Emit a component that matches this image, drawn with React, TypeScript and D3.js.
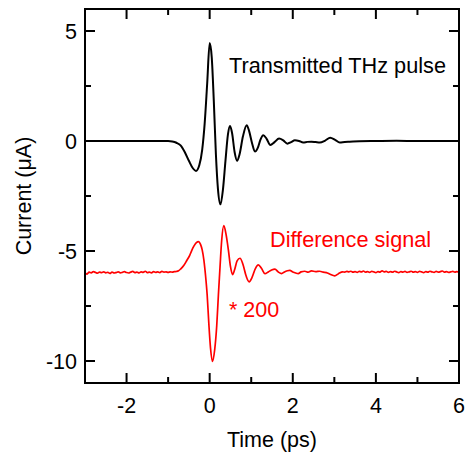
import * as d3 from 'd3';
import React from 'react';

// time (ps), current (uA)
const thzPulse: [number, number][] = [
  [-3, 0], [-2, 0], [-1.2, 0], [-1.0, 0], [-0.9, -0.02], [-0.8, -0.08],
  [-0.7, -0.2], [-0.6, -0.5], [-0.5, -0.9], [-0.4, -1.25], [-0.33, -1.36],
  [-0.25, -1.1], [-0.18, -0.4], [-0.12, 0.8], [-0.06, 2.6], [0.0, 4.45],
  [0.05, 3.8], [0.1, 1.8], [0.15, -0.6], [0.2, -2.2], [0.26, -2.88],
  [0.32, -2.2], [0.38, -0.9], [0.44, 0.3], [0.49, 0.68], [0.54, 0.35],
  [0.6, -0.5], [0.66, -0.9], [0.72, -0.6], [0.8, 0.2], [0.89, 0.72],
  [0.95, 0.45], [1.02, -0.1], [1.09, -0.48], [1.16, -0.3], [1.22, 0.05],
  [1.29, 0.26], [1.37, 0.1], [1.46, -0.18], [1.56, -0.05], [1.67, 0.11],
  [1.77, 0.03], [1.87, -0.12], [1.96, -0.05], [2.05, 0.03], [2.15, 0],
  [2.25, -0.07], [2.35, -0.04], [2.45, -0.03], [2.55, -0.05], [2.65, -0.07],
  [2.78, 0.02], [2.9, 0.15], [3.02, 0.05], [3.13, -0.07], [3.25, -0.04],
  [3.37, -0.03], [3.6, -0.01], [4.0, 0.0], [4.5, 0.01], [5.0, 0.0], [6.0, 0.0],
];

// difference signal (x200, offset)
const diffSignal: [number, number][] = [
  [-3.0, -5.98], [-2.95, -6.05], [-2.9, -5.96], [-2.85, -5.99], [-2.8, -5.94],
  [-2.75, -5.97], [-2.7, -6.01], [-2.65, -5.96], [-2.6, -5.98], [-2.55, -5.95],
  [-2.5, -5.99], [-2.45, -5.97], [-2.4, -6.02], [-2.35, -5.96], [-2.3, -6.0],
  [-2.25, -5.98], [-2.2, -5.95], [-2.15, -5.99], [-2.1, -5.97], [-2.05, -5.94],
  [-2.0, -5.98], [-1.95, -6.0], [-1.9, -5.96], [-1.85, -5.93], [-1.8, -5.98],
  [-1.75, -5.96], [-1.7, -6.0], [-1.65, -5.95], [-1.6, -5.97], [-1.55, -5.92],
  [-1.5, -5.98], [-1.45, -5.96], [-1.4, -5.99], [-1.35, -5.94], [-1.3, -5.97],
  [-1.25, -5.95], [-1.2, -5.98], [-1.15, -5.93], [-1.1, -5.96], [-1.05, -5.95],
  [-1.0, -5.97], [-0.95, -5.95], [-0.9, -5.96], [-0.85, -5.94],
  [-0.8, -5.93], [-0.75, -5.9], [-0.7, -5.82], [-0.62, -5.65], [-0.55, -5.43],
  [-0.48, -5.2], [-0.43, -4.97], [-0.38, -4.78], [-0.32, -4.62], [-0.27, -4.57],
  [-0.22, -4.7], [-0.18, -4.95], [-0.14, -5.4], [-0.1, -6.1], [-0.06, -7.0],
  [-0.02, -8.3], [0.02, -9.4], [0.07, -10.02], [0.12, -9.5], [0.17, -8.4],
  [0.21, -7.0], [0.25, -5.7], [0.29, -4.5], [0.34, -3.84], [0.39, -4.2],
  [0.45, -4.95], [0.5, -5.7], [0.55, -6.07], [0.6, -5.85], [0.66, -5.45],
  [0.73, -5.33], [0.8, -5.6], [0.88, -6.15], [0.95, -6.4], [1.02, -6.2],
  [1.1, -5.8], [1.17, -5.63], [1.25, -5.8], [1.33, -6.03], [1.41, -5.95],
  [1.49, -5.86], [1.57, -5.82], [1.65, -5.95], [1.73, -6.03], [1.8, -5.95],
  [1.87, -5.9], [1.93, -5.88], [2.0, -5.95], [2.07, -6.0], [2.13, -6.03],
  [2.2, -5.95], [2.29, -5.92], [2.37, -5.96], [2.45, -5.9], [2.55, -5.94],
  [2.65, -5.92], [2.73, -5.96], [2.81, -5.98], [2.9, -6.06], [3.01, -6.13],
  [3.1, -6.03], [3.2, -5.95],
  [3.25, -5.96], [3.3, -5.93], [3.35, -5.95], [3.4, -5.92], [3.45, -5.96],
  [3.5, -5.94], [3.55, -5.97], [3.6, -5.93], [3.65, -5.95], [3.7, -5.91],
  [3.75, -5.96], [3.8, -5.94], [3.85, -5.97], [3.9, -5.93], [3.95, -5.95],
  [4.0, -5.98], [4.05, -5.94], [4.1, -5.96], [4.15, -5.9], [4.2, -5.95],
  [4.25, -5.93], [4.3, -5.97], [4.35, -5.94], [4.4, -5.96], [4.45, -5.92],
  [4.5, -5.95], [4.55, -5.98], [4.6, -5.94], [4.65, -5.96], [4.7, -5.93],
  [4.75, -5.97], [4.8, -5.95], [4.85, -5.92], [4.9, -5.96], [4.95, -5.94],
  [5.0, -5.97], [5.05, -5.93], [5.1, -5.95], [5.15, -5.98], [5.2, -5.94],
  [5.25, -5.96], [5.3, -5.92], [5.35, -5.95], [5.4, -5.97], [5.45, -5.93],
  [5.5, -5.96], [5.55, -5.94], [5.6, -5.91], [5.65, -5.96], [5.7, -5.94],
  [5.75, -5.97], [5.8, -5.95], [5.85, -5.93], [5.9, -5.96], [5.95, -5.94],
  [6.0, -5.96],
];

const xMajor = [-2, 0, 2, 4, 6];
const xMinor = [-3, -1, 1, 3, 5];
const yMajor = [-10, -5, 0, 5];
const yMinor = [-7.5, -2.5, 2.5];

const font = "'Liberation Sans', Arial, sans-serif";

export default function App() {
  const width = 465;
  const height = 456;
  const margin = { top: 9, right: 6, bottom: 73, left: 85 };
  const x = d3.scaleLinear().domain([-3, 6]).range([margin.left, width - margin.right]);
  const y = d3.scaleLinear().domain([-11, 6]).range([height - margin.bottom, margin.top]);

  const line = d3
    .line<[number, number]>()
    .x((d) => x(d[0]))
    .y((d) => y(d[1]))
    .curve(d3.curveMonotoneX);

  const left = margin.left;
  const right = width - margin.right;
  const top = margin.top;
  const bottom = height - margin.bottom;
  const major = 10;
  const minor = 6;

  return (
    <div style={{ position: 'absolute', left: 0, top: 0 }}>
      <svg width={width} height={height} style={{ display: 'block', background: '#fff' }}>
        <defs>
          <clipPath id="plot">
            <rect x={left} y={top} width={right - left} height={bottom - top} />
          </clipPath>
        </defs>

        <g clipPath="url(#plot)">
          <path d={line(thzPulse) ?? ''} fill="none" stroke="#000" strokeWidth={2} />
          <path d={line(diffSignal) ?? ''} fill="none" stroke="#ff0000" strokeWidth={1.7} />
        </g>

        {/* ticks, inward on all sides */}
        <g stroke="#000" strokeWidth={2}>
          {xMajor.concat(xMinor).map((t) => {
            const len = xMajor.includes(t) ? major : minor;
            return (
              <g key={'x' + t}>
                <line x1={x(t)} x2={x(t)} y1={bottom} y2={bottom - len} />
                <line x1={x(t)} x2={x(t)} y1={top} y2={top + len} />
              </g>
            );
          })}
          {yMajor.concat(yMinor).map((t) => {
            const len = yMajor.includes(t) ? major : minor;
            return (
              <g key={'y' + t}>
                <line x1={left} x2={left + len} y1={y(t)} y2={y(t)} />
                <line x1={right} x2={right - len} y1={y(t)} y2={y(t)} />
              </g>
            );
          })}
          <rect x={left} y={top} width={right - left} height={bottom - top} fill="none" />
        </g>

        {/* tick labels */}
        <g fontFamily={font} fontSize={21.5} fill="#000">
          {xMajor.map((t) => (
            <text key={'xl' + t} x={x(t)} y={bottom + 30} textAnchor="middle">
              {t}
            </text>
          ))}
          {yMajor.map((t) => (
            <text key={'yl' + t} x={left - 8} y={y(t)} dy="0.35em" textAnchor="end">
              {t}
            </text>
          ))}
        </g>

        {/* axis titles */}
        <text x={(left + right) / 2} y={447} textAnchor="middle" fontFamily={font} fontSize={21.5}>
          Time (ps)
        </text>
        <text
          transform={`translate(31,${(top + bottom) / 2}) rotate(-90)`}
          textAnchor="middle"
          fontFamily={font}
          fontSize={21.5}
        >
          Current (μA)
        </text>

        {/* annotations */}
        <text x={229} y={73} fontFamily={font} fontSize={21.7} fill="#000">
          Transmitted THz pulse
        </text>
        <text x={270} y={247} fontFamily={font} fontSize={21.7} fill="#ff0000">
          Difference signal
        </text>
        <text x={229} y={317} fontFamily={font} fontSize={21.5} fill="#ff0000">
          * 200
        </text>
      </svg>
    </div>
  );
}
